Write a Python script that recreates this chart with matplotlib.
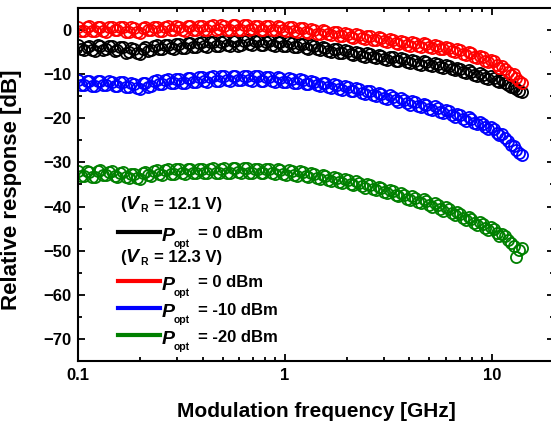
import matplotlib
matplotlib.use("Agg")
import matplotlib.pyplot as plt
from matplotlib.ticker import FixedLocator, MultipleLocator, LogLocator, NullFormatter

plt.rcParams['font.family'] = ['Liberation Sans', 'DejaVu Sans']

# Modulation frequency [GHz], two interleaved sweeps
freq_a = [0.1000, 0.1065, 0.1133, 0.1206, 0.1284, 0.1367, 0.1455, 0.1549, 0.1649, 0.1756,
          0.1869, 0.1990, 0.2118, 0.2255, 0.2400, 0.2555, 0.2720, 0.2896, 0.3083, 0.3282,
          0.3494, 0.3719, 0.3959, 0.4215, 0.4487, 0.4777, 0.5085, 0.5413, 0.5763, 0.6135,
          0.6531, 0.6952, 0.7401, 0.7879, 0.8388, 0.8929, 0.9505, 1.012, 1.077, 1.147,
          1.221, 1.300, 1.383, 1.473, 1.568, 1.669, 1.777, 1.891, 2.014, 2.144,
          2.282, 2.429, 2.586, 2.753, 2.931, 3.120, 3.321, 3.536, 3.764, 4.007,
          4.265, 4.541, 4.834, 5.146, 5.478, 5.832, 6.208, 6.609, 7.035, 7.489,
          7.973, 8.487, 9.035, 9.617, 10.24, 10.90, 11.60, 12.35, 13.15, 14.00]
freq_b = [0.1032, 0.1099, 0.1169, 0.1244, 0.1325, 0.1410, 0.1501, 0.1598, 0.1701, 0.1812,
          0.1929, 0.2053, 0.2185, 0.2327, 0.2476, 0.2636, 0.2806, 0.2988, 0.3181, 0.3386,
          0.3605, 0.3837, 0.4085, 0.4349, 0.4630, 0.4929, 0.5247, 0.5585, 0.5946, 0.6330,
          0.6739, 0.7173, 0.7636, 0.8130, 0.8655, 0.9213, 0.9807, 1.044, 1.111, 1.183,
          1.260, 1.341, 1.427, 1.520, 1.618, 1.722, 1.833, 1.951, 2.078, 2.212,
          2.355, 2.506, 2.668, 2.841, 3.024, 3.219, 3.427, 3.648, 3.884, 4.134,
          4.401, 4.685, 4.988, 5.310, 5.652, 6.017, 6.405, 6.819, 7.259, 7.727,
          8.226, 8.757, 9.322, 9.923, 10.57, 11.25, 11.97, 12.74, 13.57]

# Relative response [dB]
# V_R = 12.1 V, P_opt = 0 dBm
black_a = [-3.4, -4.5, -3.6, -4.7, -3.5, -4.4, -3.7, -4.6, -3.8, -4.9,
           -4.3, -5.4, -3.9, -4.6, -3.4, -4.3, -3.3, -4.2, -3.1, -4.0,
           -2.9, -3.9, -2.7, -3.8, -2.6, -3.6, -2.5, -3.5, -2.4, -3.4,
           -2.3, -3.3, -2.4, -3.4, -2.5, -3.5, -2.6, -3.7, -2.9, -3.9,
           -3.2, -4.2, -3.6, -4.6, -4.0, -5.0, -4.4, -5.3, -4.7, -5.6,
           -5.1, -6.0, -5.5, -6.4, -5.8, -6.7, -6.1, -7.0, -6.6, -7.5,
           -7.0, -7.9, -7.3, -8.2, -7.7, -8.6, -8.2, -9.1, -8.8, -9.7,
           -9.4, -10.3, -10.1, -11.0, -10.8, -11.7, -11.9, -12.9, -13.4, -14.1]
black_b = [-4.3, -3.8, -4.6, -3.4, -4.6, -3.6, -4.8, -3.9, -5.1, -4.0,
           -5.2, -4.2, -4.8, -3.6, -4.4, -3.4, -4.1, -3.2, -4.1, -3.0,
           -3.8, -2.9, -3.7, -2.7, -3.7, -2.6, -3.4, -2.5, -3.5, -2.4,
           -3.2, -2.5, -3.3, -2.6, -3.4, -2.7, -3.6, -2.8, -3.8, -3.1,
           -4.1, -3.4, -4.4, -3.8, -4.8, -4.2, -5.1, -4.5, -5.5, -4.9,
           -5.8, -5.3, -6.2, -5.6, -6.5, -6.0, -6.9, -6.3, -7.3, -6.8,
           -7.7, -7.1, -8.0, -7.5, -8.4, -8.0, -8.9, -8.5, -9.5, -9.1,
           -10.1, -9.8, -10.8, -10.5, -11.5, -11.3, -12.4, -12.8, -13.8]
# V_R = 12.3 V, P_opt = 0 dBm
red_a = [0.6, -0.3, 0.9, -0.2, 0.7, -0.4, 0.8, 0.0, 0.6, -0.5,
         0.5, -0.6, 0.7, -0.1, 0.8, -0.3, 0.9, 0.0, 0.8, -0.2,
         1.0, 0.1, 0.9, -0.1, 1.1, 0.2, 1.0, 0.0, 1.2, 0.1,
         1.1, 0.2, 1.0, -0.1, 0.9, 0.0, 0.8, -0.2, 0.6, -0.4,
         0.4, -0.6, 0.1, -0.9, -0.2, -1.1, -0.5, -1.4, -0.8, -1.7,
         -1.1, -2.0, -1.4, -2.3, -1.8, -2.7, -2.2, -3.1, -2.6, -3.5,
         -2.9, -3.8, -3.2, -4.1, -3.5, -4.4, -4.0, -5.0, -4.6, -5.6,
         -5.3, -6.4, -6.2, -7.3, -7.1, -8.5, -8.9, -10.2, -10.8, -12.0]
red_b = [-0.2, 0.8, -0.3, 0.6, -0.2, 0.7, -0.1, 0.7, -0.4, 0.6,
         -0.5, 0.5, 0.0, 0.7, -0.2, 0.8, 0.1, 0.9, -0.1, 0.9,
         0.0, 1.0, 0.0, 1.0, 0.1, 1.1, 0.1, 1.1, 0.0, 1.2,
         0.1, 1.0, 0.0, 1.0, -0.1, 0.9, -0.1, 0.7, -0.3, 0.5,
         -0.5, 0.2, -0.8, -0.1, -1.0, -0.4, -1.3, -0.7, -1.6, -1.0,
         -1.9, -1.3, -2.2, -1.6, -2.5, -2.0, -2.9, -2.4, -3.3, -2.8,
         -3.6, -3.0, -3.9, -3.4, -4.3, -3.8, -4.8, -4.3, -5.4, -5.0,
         -6.0, -5.8, -6.9, -6.7, -8.0, -8.2, -9.6, -10.0, -11.5]
# V_R = 12.3 V, P_opt = -10 dBm
blue_a = [-11.4, -12.5, -11.6, -12.7, -11.5, -12.4, -11.7, -12.6, -11.8, -12.9,
          -12.2, -13.3, -11.9, -12.6, -11.4, -12.3, -11.2, -12.1, -11.0, -11.9,
          -10.8, -11.8, -10.6, -11.7, -10.5, -11.6, -10.4, -11.5, -10.3, -11.4,
          -10.4, -11.5, -10.5, -11.6, -10.6, -11.7, -10.8, -11.8, -11.0, -12.0,
          -11.3, -12.3, -11.7, -12.7, -12.1, -13.1, -12.5, -13.5, -12.9, -13.9,
          -13.4, -14.4, -13.9, -14.9, -14.5, -15.6, -15.1, -16.2, -15.8, -16.9,
          -16.4, -17.5, -17.0, -18.1, -17.6, -18.8, -18.4, -19.6, -19.3, -20.5,
          -20.2, -21.4, -21.2, -22.5, -22.4, -23.8, -24.5, -26.0, -27.2, -28.4]
blue_b = [-12.4, -11.5, -12.6, -11.6, -12.5, -11.6, -12.7, -11.7, -12.8, -12.0,
          -13.1, -12.1, -12.8, -11.6, -12.2, -11.3, -12.0, -11.1, -11.9, -10.9,
          -11.7, -10.7, -11.6, -10.6, -11.5, -10.5, -11.4, -10.4, -11.3, -10.4,
          -11.4, -10.5, -11.5, -10.6, -11.6, -10.7, -11.7, -10.9, -11.9, -11.1,
          -12.2, -11.5, -12.5, -11.9, -12.9, -12.3, -13.3, -12.7, -13.7, -13.2,
          -14.2, -13.7, -14.7, -14.2, -15.3, -14.8, -15.9, -15.5, -16.6, -16.1,
          -17.2, -16.7, -17.9, -17.3, -18.5, -18.1, -19.3, -19.0, -20.1, -19.8,
          -21.0, -20.8, -22.0, -21.9, -23.3, -23.5, -25.2, -26.2, -27.8]
# V_R = 12.3 V, P_opt = -20 dBm
green_a = [-31.9, -33.1, -32.1, -33.3, -31.8, -32.9, -32.0, -33.2, -32.2, -33.5,
           -32.6, -33.8, -32.2, -33.0, -31.7, -32.8, -31.6, -32.7, -31.5, -32.6,
           -31.4, -32.5, -31.4, -32.5, -31.3, -32.4, -31.3, -32.4, -31.2, -32.3,
           -31.3, -32.4, -31.4, -32.5, -31.5, -32.6, -31.7, -32.8, -31.9, -33.0,
           -32.2, -33.3, -32.6, -33.7, -33.0, -34.1, -33.5, -34.6, -34.0, -35.1,
           -34.6, -35.7, -35.2, -36.3, -35.8, -37.0, -36.5, -37.7, -37.3, -38.5,
           -38.1, -39.3, -38.8, -40.1, -39.6, -40.9, -40.6, -41.9, -41.7, -43.0,
           -42.8, -44.1, -44.0, -45.3, -45.2, -46.6, -46.7, -48.3, -51.5, -49.5]
green_b = [-33.0, -32.0, -33.2, -32.0, -32.8, -32.1, -33.0, -32.3, -33.3, -32.7,
           -33.6, -32.5, -32.9, -31.9, -32.7, -31.7, -32.6, -31.6, -32.5, -31.5,
           -32.4, -31.5, -32.4, -31.4, -32.3, -31.4, -32.3, -31.3, -32.2, -31.3,
           -32.3, -31.4, -32.4, -31.5, -32.5, -31.6, -32.7, -31.8, -32.9, -32.0,
           -33.1, -32.4, -33.5, -32.8, -33.9, -33.3, -34.4, -33.8, -34.9, -34.3,
           -35.4, -34.9, -36.0, -35.5, -36.7, -36.2, -37.4, -36.9, -38.2, -37.7,
           -38.9, -38.4, -39.7, -39.2, -40.5, -40.2, -41.5, -41.2, -42.6, -42.4,
           -43.7, -43.5, -44.9, -44.7, -46.0, -46.2, -47.6, -48.9, -49.9]

BLACK, RED, BLUE, GREEN = 'black', '#ff0000', '#0000ff', '#008000'

fig = plt.figure(figsize=(5.51, 4.23), dpi=100)
# right spine of the original sits just past the image edge
ax = fig.add_axes([0.1416, 0.1466, 0.8639, 0.8345])

mk = dict(ls='none', marker='o', mfc='none', ms=8, mew=1.3)
for ya, yb, c in [(green_a, green_b, GREEN), (blue_a, blue_b, BLUE),
                  (black_a, black_b, BLACK), (red_a, red_b, RED)]:
    ax.plot(freq_a, ya, color=c, **mk)
    ax.plot(freq_b, yb, color=c, **mk)

ax.set_xscale('log')
ax.set_xlim(0.1, 20)
ax.set_ylim(-75, 5)
ax.xaxis.set_major_locator(FixedLocator([0.1, 1, 10]))
ax.set_xticklabels(['0.1', '1', '10'])
ax.xaxis.set_minor_locator(LogLocator(base=10, subs=range(2, 10)))
ax.xaxis.set_minor_formatter(NullFormatter())
ax.yaxis.set_major_locator(MultipleLocator(10))
ax.yaxis.set_minor_locator(MultipleLocator(5))

ax.tick_params(which='both', direction='in', top=True, right=True, width=1.3)
ax.tick_params(which='major', length=5, labelsize=12, pad=5)
ax.tick_params(which='minor', length=3)
for lab in ax.get_xticklabels() + ax.get_yticklabels():
    lab.set_fontweight('bold')
for sp in ax.spines.values():
    sp.set_linewidth(1.5)

ax.set_xlabel('Modulation frequency [GHz]', fontsize=15, fontweight='bold')
ax.xaxis.set_label_coords(0.5, -0.115)
ax.set_ylabel('Relative response [dB]', fontsize=16, fontweight='bold')
ax.yaxis.set_label_coords(-0.118, 0.484)


# legend block, placed in image pixels
def at(x, y):
    return x / 551, 1 - y / 423


tf = fig.transFigure
for base, volt in [(209, '12.1'), (262, '12.3')]:
    fig.text(*at(120, base), '(', transform=tf, fontsize=12, fontweight='bold', va='baseline')
    fig.text(*at(125, base), 'V', transform=tf, fontsize=14, fontweight='bold',
             style='italic', va='baseline')
    fig.text(*at(140, base + 3), 'R', transform=tf, fontsize=7.5, fontweight='bold', va='baseline')
    fig.text(*at(154, base), '= ' + volt + ' V)', transform=tf, fontsize=12,
             fontweight='bold', va='baseline')

for yl, c, txt in [(231.7, BLACK, '= 0 dBm'), (280.7, RED, '= 0 dBm'),
                   (308.3, BLUE, '= -10 dBm'), (335.0, GREEN, '= -20 dBm')]:
    fig.add_artist(plt.Line2D([118 / 551, 160 / 551], [1 - yl / 423, 1 - yl / 423],
                              color=c, lw=3, transform=tf))
    fig.text(*at(161.5, yl + 9), 'P', transform=tf, fontsize=14, fontweight='bold',
             style='italic', va='baseline')
    fig.text(*at(174, yl + 15), 'opt', transform=tf, fontsize=7.5, fontweight='bold',
             va='baseline')
    fig.text(*at(198, yl + 6.5), txt, transform=tf, fontsize=12, fontweight='bold',
             va='baseline')

fig.savefig('out.png', dpi=100)
